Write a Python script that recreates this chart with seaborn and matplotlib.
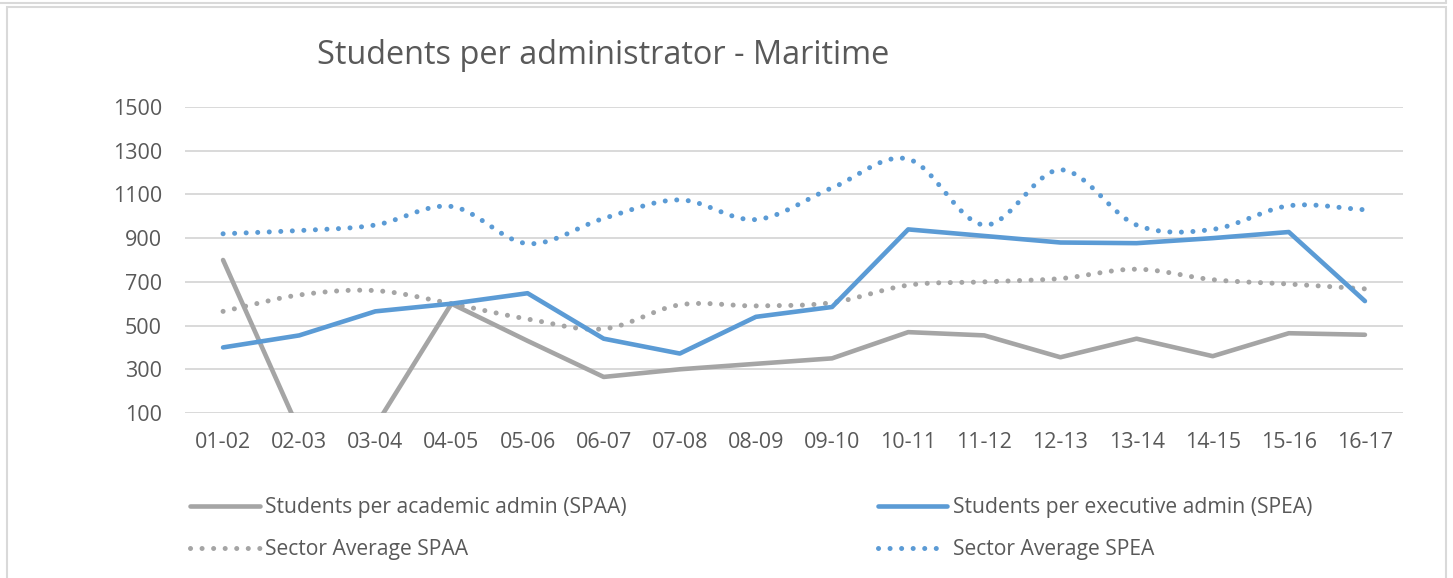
import numpy as np
import pandas as pd
import matplotlib
matplotlib.use("Agg")
import matplotlib.pyplot as plt
from matplotlib.lines import Line2D
from matplotlib.patches import Rectangle
import seaborn as sns

years = ["01-02", "02-03", "03-04", "04-05", "05-06", "06-07", "07-08", "08-09",
         "09-10", "10-11", "11-12", "12-13", "13-14", "14-15", "15-16", "16-17"]
spaa = [800, 20, 40, 600, 430, 265, 300, 325, 350, 470, 455, 355, 440, 360, 465, 458]
spea = [400, 455, 565, 600, 648, 440, 372, 540, 585, 940, 910, 880, 877, 900, 928, 612]
sector_spaa = [565, 640, 660, 600, 530, 485, 595, 590, 605, 685, 700, 715, 758, 710, 690, 668]
sector_spea = [920, 935, 960, 1045, 875, 990, 1075, 985, 1130, 1262, 960, 1213, 960, 940, 1048, 1030]
yticks = [100, 300, 500, 700, 900, 1100, 1300, 1500]

title = "Students per administrator - Maritime"
labels = ["Students per academic admin (SPAA)", "Students per executive admin (SPEA)",
          "Sector Average SPAA", "Sector Average SPEA"]

GRAY = "#A5A5A5"
BLUE = "#5B9BD5"
TEXT = "#595959"
GRID = "#D9D9D9"

sns.set_theme(style="white")
plt.rcParams["font.family"] = ["Open Sans", "DejaVu Sans"]


def smooth(y, n=20):
    """Catmull-Rom curve through the data points (display smoothing only)."""
    y = np.asarray(y, float)
    x = np.arange(len(y), dtype=float)
    P = np.column_stack([x, y])
    P = np.vstack([P[0] - (P[1] - P[0]), P, P[-1] + (P[-1] - P[-2])])
    xs, ys = [], []
    for i in range(1, len(P) - 2):
        p0, p1, p2, p3 = P[i - 1], P[i], P[i + 1], P[i + 2]
        t = np.linspace(0, 1, n, endpoint=False)[:, None]
        pts = 0.5 * ((2 * p1) + (-p0 + p2) * t + (2 * p0 - 5 * p1 + 4 * p2 - p3) * t ** 2
                     + (-p0 + 3 * p1 - 3 * p2 + p3) * t ** 3)
        xs.extend(pts[:, 0]); ys.extend(pts[:, 1])
    xs.append(x[-1]); ys.append(y[-1])
    return np.array(xs), np.array(ys)


fig = plt.figure(figsize=(14.53, 5.78), dpi=100)
ax = fig.add_axes([185 / 1453, 1 - 413 / 578, (1403 - 185) / 1453, (413 - 107) / 578])

xpos = np.arange(len(years))
solid_lw = 3.3
dot_lw = 3.6
dot_style = (0, (0.01, 2.3))

for series, color, lab in [(sector_spaa, GRAY, labels[2]), (sector_spea, BLUE, labels[3])]:
    sx, sy = smooth(series)
    sns.lineplot(x=sx, y=sy, sort=False, ax=ax, color=color, lw=dot_lw,
                 linestyle=dot_style, dash_capstyle="round", estimator=None)
for series, color in [(spaa, GRAY), (spea, BLUE)]:
    sns.lineplot(x=xpos, y=series, ax=ax, color=color, lw=solid_lw,
                 solid_capstyle="round", solid_joinstyle="round", estimator=None)

ax.set_xlim(-0.5, len(years) - 0.5)
ax.set_ylim(100, 1500)
ax.set_yticks(yticks)
ax.set_xticks(xpos)
ax.set_xticklabels(years)
ax.yaxis.grid(True, color=GRID, lw=1.4)
ax.xaxis.grid(False)
ax.set_axisbelow(True)
for s in ax.spines.values():
    s.set_visible(False)
ax.tick_params(axis="both", length=0, labelsize=15.5, colors=TEXT)
ax.tick_params(axis="y", pad=16.5)
ax.tick_params(axis="x", pad=14)
ax.set_xlabel("")
ax.set_ylabel("")

fig.text(317 / 1453, 1 - 56 / 578, title, ha="left", va="center",
         fontsize=23.4, color=TEXT)

handles = [
    Line2D([], [], color=GRAY, lw=solid_lw, solid_capstyle="round"),
    Line2D([], [], color=GRAY, lw=dot_lw, linestyle=dot_style, dash_capstyle="round"),
    Line2D([], [], color=BLUE, lw=solid_lw, solid_capstyle="round"),
    Line2D([], [], color=BLUE, lw=dot_lw, linestyle=dot_style, dash_capstyle="round"),
]
leg_labels = [labels[0], labels[2], labels[1], labels[3]]
fig.legend(handles, leg_labels, ncol=2, loc="upper left",
           bbox_to_anchor=(190 / 1453, 1 - 497 / 578), frameon=False,
           fontsize=15.2, labelcolor=TEXT, handlelength=3.3, handletextpad=0.25,
           columnspacing=11.9, labelspacing=1.0, borderpad=0, borderaxespad=0)

# chart frame
fig.patches.append(Rectangle((7 / 1453, -0.01), (1446 - 7) / 1453, 1 - 7 / 578 + 0.01,
                             transform=fig.transFigure, fill=False, edgecolor=GRID, lw=1.5))
fig.lines.append(Line2D([0, 1446 / 1453], [1 - 2.5 / 578, 1 - 2.5 / 578],
                        transform=fig.transFigure, color=GRID, lw=1.5))
fig.lines.append(Line2D([1446 / 1453, 1446 / 1453], [1 - 2.5 / 578, 1],
                        transform=fig.transFigure, color=GRID, lw=1.5))

fig.savefig("out.png", dpi=100, facecolor="white")
